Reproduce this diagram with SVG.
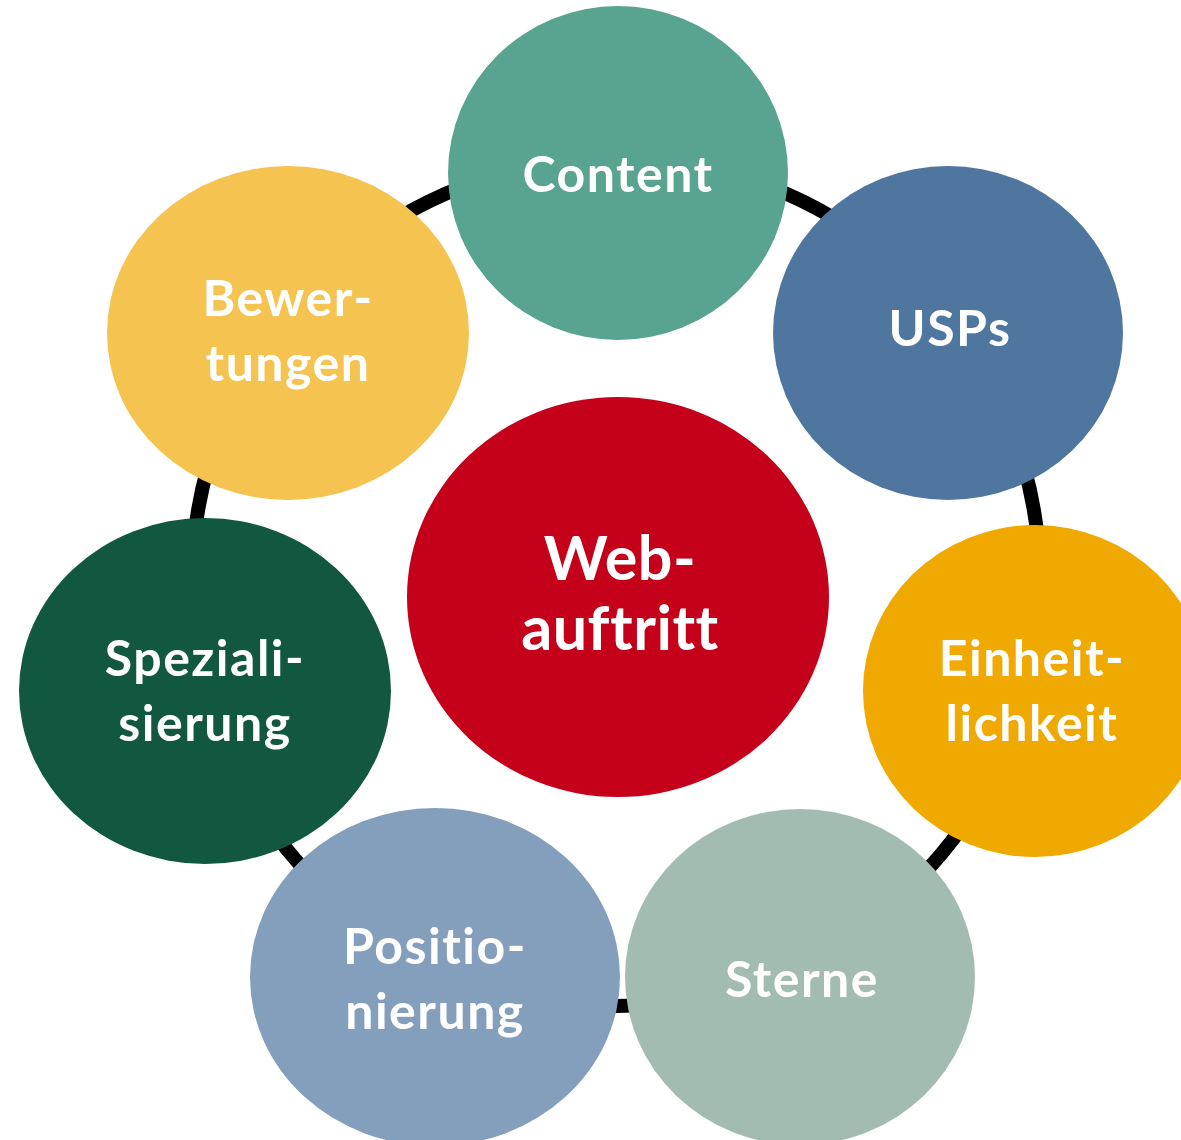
<svg xmlns="http://www.w3.org/2000/svg" width="1181" height="1140" viewBox="0 0 1181 1140">
<style>
.lbl{font-family:Lato,"Open Sans","Liberation Sans",sans-serif;font-weight:bold;fill:#fff;text-anchor:middle;font-size:50px;letter-spacing:1.5px;font-variant-ligatures:none;font-feature-settings:"liga" 0,"clig" 0}
.big{font-size:61px;letter-spacing:0.5px}
</style>
<rect width="1181" height="1140" fill="#fff"/>
<g id="connectors">
<circle cx="616" cy="582" r="424" fill="none" stroke="#000" stroke-width="14"/>
</g>
<g id="content"><ellipse cx="618" cy="173" rx="170" ry="167" fill="#59A391"/><text class="lbl" x="618" y="192">Content</text></g>
<g id="usps"><ellipse cx="948" cy="333" rx="175" ry="167" fill="#4F769E"/><text class="lbl" x="950" y="346">USPs</text></g>
<g id="einheitlichkeit"><ellipse cx="1035" cy="691" rx="172" ry="166" fill="#F0A900"/><text class="lbl" x="1032" y="676">Einheit-</text><text class="lbl" x="1032" y="741">lichkeit</text></g>
<g id="sterne"><ellipse cx="800" cy="977" rx="175" ry="168" fill="#A2BCB2"/><text class="lbl" x="802" y="997">Sterne</text></g>
<g id="positionierung"><ellipse cx="435" cy="977" rx="185" ry="169" fill="#849FBB"/><text class="lbl" x="435" y="964">Positio-</text><text class="lbl" x="435" y="1029">nierung</text></g>
<g id="spezialisierung"><ellipse cx="205" cy="691" rx="186" ry="173" fill="#12573F"/><text class="lbl" x="205" y="676">Speziali-</text><text class="lbl" x="205" y="741">sierung</text></g>
<g id="bewertungen"><ellipse cx="288" cy="333" rx="181" ry="167" fill="#F5C350"/><text class="lbl" x="288" y="316">Bewer-</text><text class="lbl" x="288" y="381">tungen</text></g>
<g id="webauftritt"><ellipse cx="618" cy="597" rx="211" ry="200" fill="#C4001A"/><text class="lbl big" x="620" y="580">Web-</text><text class="lbl big" x="620" y="650">auftritt</text></g>
</svg>
